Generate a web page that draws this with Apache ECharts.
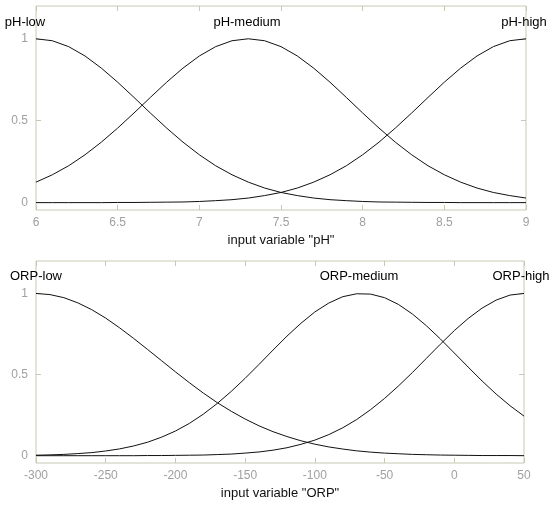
<!DOCTYPE html>
<html>
<head>
<meta charset="utf-8">
<script src="https://cdn.jsdelivr.net/npm/echarts@6/dist/echarts.min.js"></script>
<style>
  html, body { margin: 0; padding: 0; background: #fff; }
  #chart { width: 550px; height: 509px; }
</style>
</head>
<body>
<div id="chart"></div>
<script>
// membership values
var phX = [6.0, 6.1, 6.2, 6.3, 6.4, 6.5, 6.6, 6.7, 6.8, 6.9, 7.0, 7.1, 7.2, 7.3, 7.4, 7.5,
    7.6, 7.7, 7.8, 7.9, 8.0, 8.1, 8.2, 8.3, 8.4, 8.5, 8.6, 8.7, 8.8, 8.9, 9.0];
var phLow = [1, 0.988, 0.952, 0.895, 0.821, 0.735, 0.642, 0.547, 0.455, 0.369, 0.292, 0.225,
    0.170, 0.125, 0.089, 0.062, 0.043, 0.028, 0.018, 0.012, 0.007, 0.004, 0.003, 0.002, 0.001,
    0.001, 0, 0, 0, 0, 0];
var phMedium = [0.125, 0.170, 0.225, 0.292, 0.369, 0.455, 0.547, 0.642, 0.735, 0.821, 0.895,
    0.952, 0.988, 1, 0.988, 0.952, 0.895, 0.821, 0.735, 0.642, 0.547, 0.455, 0.369, 0.292,
    0.225, 0.170, 0.125, 0.089, 0.062, 0.043, 0.028];
var phHigh = [0, 0, 0, 0, 0, 0.001, 0.001, 0.002, 0.003, 0.004, 0.007, 0.012, 0.018, 0.028,
    0.043, 0.062, 0.089, 0.125, 0.170, 0.225, 0.292, 0.369, 0.455, 0.547, 0.642, 0.735, 0.821,
    0.895, 0.952, 0.988, 1];

var orpX = [-300, -290, -280, -270, -260, -250, -240, -230, -220, -210, -200, -190, -180, -170,
    -160, -150, -140, -130, -120, -110, -100, -90, -80, -70, -60, -50, -40, -30, -20, -10,
    0, 10, 20, 30, 40, 50];
var orpLow = [1, 0.993, 0.974, 0.942, 0.900, 0.848, 0.788, 0.723, 0.655, 0.586, 0.517, 0.450,
    0.386, 0.327, 0.274, 0.226, 0.184, 0.148, 0.118, 0.092, 0.071, 0.054, 0.041, 0.030, 0.022,
    0.016, 0.012, 0.008, 0.006, 0.004, 0.003, 0.002, 0.001, 0.001, 0.001, 0];
var orpMedium = [0.003, 0.005, 0.008, 0.013, 0.019, 0.029, 0.042, 0.060, 0.083, 0.114, 0.152,
    0.199, 0.256, 0.322, 0.396, 0.477, 0.563, 0.651, 0.737, 0.816, 0.886, 0.941, 0.980, 0.998,
    0.996, 0.974, 0.932, 0.873, 0.801, 0.720, 0.633, 0.546, 0.460, 0.380, 0.308, 0.244];
var orpHigh = [0, 0, 0, 0, 0, 0, 0, 0, 0.001, 0.001, 0.002, 0.003, 0.004, 0.007, 0.010, 0.016,
    0.023, 0.034, 0.049, 0.070, 0.096, 0.130, 0.172, 0.223, 0.284, 0.353, 0.430, 0.513, 0.600,
    0.687, 0.771, 0.846, 0.910, 0.959, 0.990, 1];

var yTicks = [0, 0.5, 1];
var phLabels = ["pH-low", "pH-medium", "pH-high"];
var orpLabels = ["ORP-low", "ORP-medium", "ORP-high"];

var font = 'Arial, "Liberation Sans", sans-serif';
var frameColor = "#c8c8b6";
var tickText = "#a0a0a0";
var curveColor = "#111111";

var chart = echarts.init(document.getElementById("chart"), null, {renderer: "canvas"});

function pairs(xs, ys) {
    return xs.map(function (x, i) { return [x, ys[i]]; });
}

function xAxisBottom(gridIndex, min, max, interval, name) {
    return {
        type: "value", gridIndex: gridIndex, position: "bottom",
        min: min, max: max, interval: interval,
        name: name, nameLocation: "middle", nameGap: 24,
        nameTextStyle: {color: "#111", fontSize: 13, fontFamily: font},
        axisLine: {show: false, onZero: false},
        axisTick: {show: true, inside: true, length: 5, lineStyle: {color: frameColor}},
        axisLabel: {color: tickText, fontSize: 12, fontFamily: font, margin: 7},
        splitLine: {show: false}
    };
}
function xAxisTop(gridIndex, min, max, interval) {
    return {
        type: "value", gridIndex: gridIndex, position: "top",
        min: min, max: max, interval: interval,
        axisLine: {show: false, onZero: false},
        axisTick: {show: true, inside: true, length: 5, lineStyle: {color: frameColor}},
        axisLabel: {show: false},
        splitLine: {show: false}
    };
}
function yAxis(gridIndex, pos, labels) {
    return {
        type: "value", gridIndex: gridIndex, position: pos,
        min: -0.045, max: 1.2,
        axisLine: {show: false, onZero: false},
        axisTick: {show: true, inside: true, length: 5, customValues: yTicks,
            lineStyle: {color: frameColor}},
        axisLabel: {show: labels, customValues: yTicks, color: tickText, fontSize: 12,
            fontFamily: font, margin: 8},
        splitLine: {show: false}
    };
}
function curve(xi, yi, data) {
    return {
        type: "line", xAxisIndex: xi, yAxisIndex: yi, data: data,
        showSymbol: false, silent: true, smooth: false,
        lineStyle: {color: curveColor, width: 1}
    };
}
function label(text, x, y) {
    return {
        type: "text", x: x, y: y,
        style: {text: text, fill: "#000", font: "13px " + font, align: "center", verticalAlign: "middle"}
    };
}

var option = {
    backgroundColor: "#fff",
    animation: false,
    grid: [
        {left: 36, right: 24, top: 6, height: 204, show: true, borderColor: frameColor, borderWidth: 1, backgroundColor: "#fff"},
        {left: 36, right: 26, top: 261, height: 202, show: true, borderColor: frameColor, borderWidth: 1, backgroundColor: "#fff"}
    ],
    xAxis: [
        xAxisBottom(0, 6, 9, 0.5, 'input variable "pH"'),
        xAxisTop(0, 6, 9, 0.5),
        xAxisBottom(1, -300, 50, 50, 'input variable "ORP"'),
        xAxisTop(1, -300, 50, 50)
    ],
    yAxis: [
        yAxis(0, "left", true),
        yAxis(0, "right", false),
        yAxis(1, "left", true),
        yAxis(1, "right", false)
    ],
    series: [
        curve(0, 0, pairs(phX, phLow)),
        curve(0, 0, pairs(phX, phMedium)),
        curve(0, 0, pairs(phX, phHigh)),
        curve(2, 2, pairs(orpX, orpLow)),
        curve(2, 2, pairs(orpX, orpMedium)),
        curve(2, 2, pairs(orpX, orpHigh))
    ],
    graphic: [
        label(phLabels[0], 25, 22),
        label(phLabels[1], 247, 22),
        label(phLabels[2], 524, 22),
        label(orpLabels[0], 36, 276),
        label(orpLabels[1], 359, 276),
        label(orpLabels[2], 521, 276)
    ]
};

chart.setOption(option);
</script>
</body>
</html>
